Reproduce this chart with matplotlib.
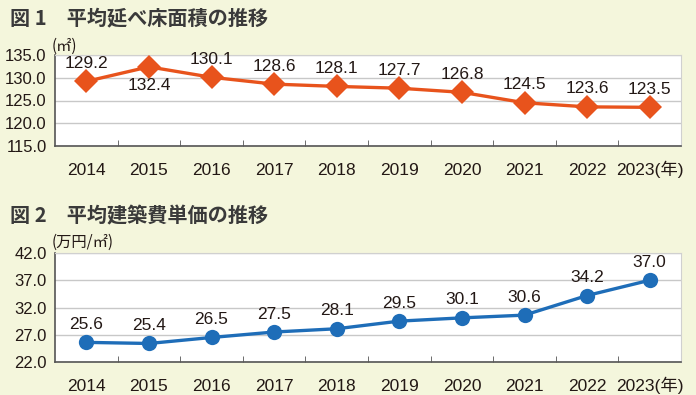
import matplotlib.pyplot as plt
import numpy as np

years = ['2014', '2015', '2016', '2017', '2018', '2019', '2020', '2021', '2022', '2023']
floor_area = [129.2, 132.4, 130.1, 128.6, 128.1, 127.7, 126.8, 124.5, 123.6, 123.5]
unit_cost = [25.6, 25.4, 26.5, 27.5, 28.1, 29.5, 30.1, 30.6, 34.2, 37.0]
area_ticks = [115.0, 120.0, 125.0, 130.0, 135.0]
cost_ticks = [22.0, 27.0, 32.0, 37.0, 42.0]

BG = '#f4f6dc'
TXT = '#231815'
NUM_FONT = ['Liberation Sans', 'Noto Sans CJK JP']
JP_FONT = ['Noto Sans CJK JP', 'DejaVu Sans']

W, H = 696, 395
fig = plt.figure(figsize=(W / 100, H / 100), dpi=100)
fig.patch.set_facecolor(BG)


def px_axes(left, top, right, bottom):
    return fig.add_axes([left / W, 1 - bottom / H, (right - left) / W, (bottom - top) / H])


def style_axes(ax, values, ticks, color, marker, msize, below=()):
    x = np.arange(len(values))
    ax.set_facecolor('white')
    ax.plot(x, values, color=color, lw=2.4, marker=marker, ms=msize,
            markeredgewidth=0, zorder=3, clip_on=False)
    for i, v in enumerate(values):
        dy = -19 if i in below else 18
        ax.annotate(f'{v:.1f}', (i, v), xytext=(0, dy), textcoords='offset pixels',
                    ha='center', va='center', fontsize=12.5, color=TXT, family=NUM_FONT)
    ax.set_xlim(-0.5, len(values) - 0.5)
    ax.set_ylim(ticks[0], ticks[-1])
    ax.set_yticks(ticks)
    ax.set_yticklabels([f'{t:.1f}' for t in ticks], family=NUM_FONT, fontsize=12, color=TXT)
    ax.set_xticks(x)
    labels = years[:-1] + [years[-1] + '(年)']
    ax.set_xticklabels(labels, family=NUM_FONT, fontsize=12.5, color=TXT, va='baseline')
    ax.set_xticks(np.arange(len(values)) + 0.5, minor=True)
    ax.tick_params(axis='x', which='major', length=0, pad=21)
    ax.tick_params(axis='x', which='minor', length=4, direction='in', color='#555555')
    ax.tick_params(axis='y', length=0, pad=6)
    ax.grid(axis='y', color='#c8c8c8', lw=1)
    ax.set_axisbelow(True)
    for s in ('top', 'right'):
        ax.spines[s].set_color('#d0d0d0')
    for s in ('left', 'bottom'):
        ax.spines[s].set_color('#555555')
        ax.spines[s].set_linewidth(1.2)


ax1 = px_axes(55, 55, 681, 146)
style_axes(ax1, floor_area, area_ticks, '#e8531c', 'D', 12, below=(1,))
ax2 = px_axes(55, 253, 681, 362)
style_axes(ax2, unit_cost, cost_ticks, '#1e6db8', 'o', 11)

fig.text(10 / W, 1 - 18 / H, '図 1　平均延べ床面積の推移', fontsize=14.5, weight='bold',
         color='#3a3a3a', family=JP_FONT, va='center')
fig.text(10 / W, 1 - 216 / H, '図 2　平均建築費単価の推移', fontsize=14.5, weight='bold',
         color='#3a3a3a', family=JP_FONT, va='center')
fig.text(52 / W, 1 - 46 / H, '(㎡)', fontsize=11, color=TXT, family=JP_FONT, va='center')
fig.text(52 / W, 1 - 242 / H, '(万円/㎡)', fontsize=11, color=TXT, family=JP_FONT, va='center')

fig.savefig('out.png', dpi=100, facecolor=BG)
